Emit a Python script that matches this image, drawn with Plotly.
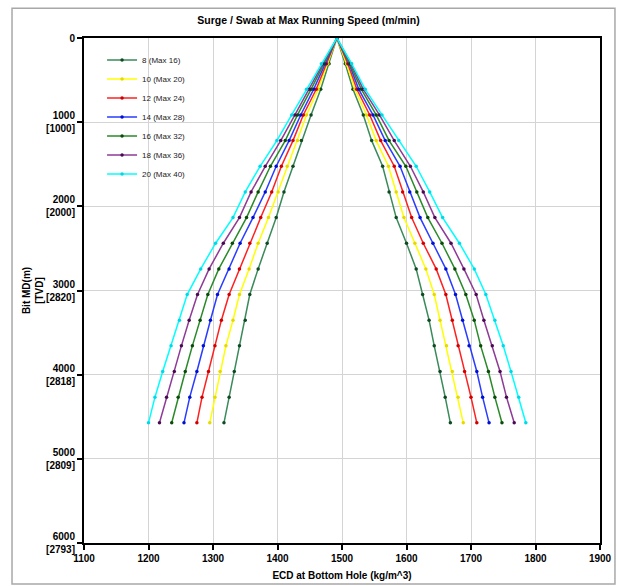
import plotly.graph_objects as go

# Depth stations (m): every 1000 ft
depth_md = [0, 304.8, 609.6, 914.4, 1219.2, 1524.0, 1828.8, 2133.6, 2438.4,
            2743.2, 3048.0, 3352.8, 3657.6, 3962.4, 4267.2, 4572.0]

series_names = ["8 (Max 16)", "10 (Max 20)", "12 (Max 24)", "14 (Max 28)",
                "16 (Max 32)", "18 (Max 36)", "20 (Max 40)"]

# Swab (left branch) ECD, kg/m^3, per series along depth_md
swab_8 = [1492, 1480, 1467, 1452, 1437, 1424, 1410, 1398, 1384, 1370, 1357, 1350, 1341, 1333, 1325, 1317]
swab_10 = [1492, 1478, 1463, 1445, 1431, 1415, 1401, 1386, 1370, 1356, 1341, 1331, 1320, 1311, 1303, 1295]
swab_12 = [1492, 1476, 1460, 1440, 1424, 1406, 1391, 1374, 1357, 1341, 1325, 1313, 1303, 1293, 1283, 1275]
swab_14 = [1492, 1474, 1456, 1436, 1418, 1398, 1381, 1362, 1342, 1325, 1307, 1296, 1285, 1275, 1264, 1255]
swab_16 = [1492, 1472, 1452, 1431, 1412, 1389, 1370, 1352, 1330, 1309, 1292, 1280, 1268, 1257, 1246, 1236]
swab_18 = [1492, 1470, 1449, 1427, 1405, 1381, 1359, 1341, 1316, 1294, 1276, 1263, 1251, 1240, 1228, 1217]
swab_20 = [1492, 1468, 1445, 1422, 1399, 1373, 1350, 1331, 1304, 1281, 1260, 1248, 1235, 1222, 1210, 1200]

# Surge (right branch) ECD, kg/m^3
surge_8 = [1492, 1505, 1517, 1533, 1546, 1563, 1573, 1584, 1600, 1615, 1625, 1635, 1643, 1652, 1660, 1668]
surge_10 = [1492, 1507, 1520, 1538, 1553, 1572, 1584, 1596, 1613, 1630, 1643, 1652, 1662, 1671, 1680, 1688]
surge_12 = [1492, 1509, 1523, 1543, 1560, 1581, 1594, 1608, 1626, 1646, 1661, 1671, 1680, 1690, 1700, 1709]
surge_14 = [1492, 1511, 1526, 1548, 1567, 1590, 1605, 1621, 1641, 1661, 1676, 1687, 1697, 1709, 1718, 1728]
surge_16 = [1492, 1512, 1530, 1553, 1573, 1599, 1616, 1633, 1655, 1675, 1692, 1705, 1715, 1727, 1737, 1748]
surge_18 = [1492, 1514, 1533, 1558, 1581, 1606, 1626, 1644, 1669, 1689, 1708, 1720, 1733, 1745, 1755, 1767]
surge_20 = [1492, 1515, 1536, 1562, 1588, 1615, 1636, 1656, 1682, 1705, 1723, 1737, 1750, 1762, 1774, 1785]

swab = [swab_8, swab_10, swab_12, swab_14, swab_16, swab_18, swab_20]
surge = [surge_8, surge_10, surge_12, surge_14, surge_16, surge_18, surge_20]

line_colors = ["#3a8a5a", "#ffff00", "#ff2020", "#2a3cff", "#2a8a2a", "#8e3a96", "#00ffff"]
marker_colors = ["#0f4a22", "#e6d800", "#d00000", "#0010d0", "#0a4a0a", "#4a0a52", "#00d8e8"]

x_ticks = [1100, 1200, 1300, 1400, 1500, 1600, 1700, 1800, 1900]
y_ticks = [0, 1000, 2000, 3000, 4000, 5000, 6000]
y_tick_text = ["0", "1000<br>[1000]", "2000<br>[2000]", "3000<br>[2820]",
               "4000<br>[2818]", "5000<br>[2809]", "6000<br>[2793]"]

FONT = "Liberation Sans, Arial, sans-serif"

fig = go.Figure()
for name, sw, su, lc, mc in zip(series_names, swab, surge, line_colors, marker_colors):
    xs = list(reversed(sw)) + su[1:]
    ys = list(reversed(depth_md)) + depth_md[1:]
    fig.add_trace(go.Scatter(
        x=xs, y=ys, name=name, mode="lines+markers",
        line=dict(color=lc, width=1.5),
        marker=dict(color=mc, size=3.5, symbol="circle"),
    ))

fig.update_layout(
    width=617, height=586,
    margin=dict(l=84, r=17, t=38, b=43),
    paper_bgcolor="white", plot_bgcolor="white",
    font=dict(family=FONT, color="black", size=10),
    title=dict(text="<b>Surge / Swab at Max Running Speed (m/min)</b>",
               x=0.5, xref="container", y=0.966, yref="container",
               xanchor="center", yanchor="middle",
               font=dict(size=10.5, family=FONT, color="black")),
    showlegend=True,
    legend=dict(x=0.035, y=0.985, xanchor="left", yanchor="top",
                bgcolor="rgba(255,255,255,0)", borderwidth=0,
                font=dict(size=8, family=FONT, color="#222"),
                itemwidth=30, tracegroupgap=0),
    xaxis=dict(range=[1100, 1900], tickvals=x_ticks, ticktext=[str(v) for v in x_ticks],
               showgrid=True, gridcolor="#d4d4d4", gridwidth=1,
               showline=True, linecolor="black", linewidth=2, mirror=True,
               ticks="outside", ticklen=5, tickwidth=1.5, tickcolor="black",
               tickfont=dict(size=10, family=FONT, weight="bold"),
               title=dict(text="<b>ECD at Bottom Hole (kg/m^3)</b>", standoff=9,
                          font=dict(size=10, family=FONT)),
               zeroline=False, automargin=False),
    yaxis=dict(range=[6000, 0], tickvals=y_ticks, ticktext=y_tick_text,
               showgrid=True, gridcolor="#d4d4d4", gridwidth=1,
               showline=True, linecolor="black", linewidth=2, mirror=True,
               ticks="outside", ticklen=5, tickwidth=1.5, tickcolor="black",
               tickfont=dict(size=10, family=FONT, weight="bold"),
               title=dict(text="<b>Bit MD(m)<br>[TVD]</b>", standoff=1,
                          font=dict(size=10, family=FONT)),
               zeroline=False, automargin=False),
    shapes=[dict(type="rect", xref="paper", yref="paper",
                 x0=-0.1395, x1=1.029, y0=-0.081, y1=1.059,
                 line=dict(color="#a8a8a8", width=1.5), layer="below")],
)

fig.write_html("out.html", config={"displayModeBar": False},
               post_script="document.body.style.margin='0';document.body.style.overflow='hidden';")
